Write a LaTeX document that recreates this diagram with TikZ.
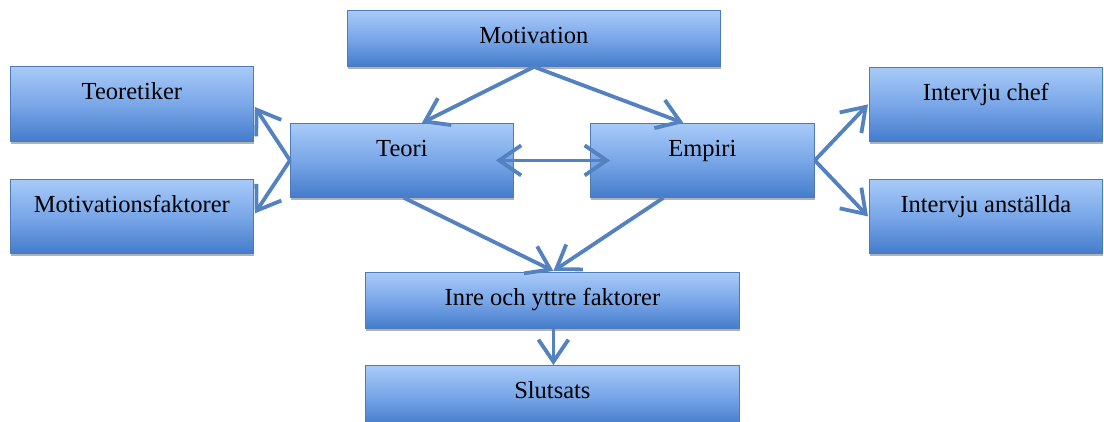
\documentclass[tikz,border=0pt]{standalone}
\usepackage{fontspec}
\setmainfont{Liberation Serif}
\usetikzlibrary{arrows.meta,shadows,calc}
\definecolor{boxtop}{RGB}{168,202,248}
\definecolor{boxmid}{RGB}{122,167,232}
\definecolor{boxbot}{RGB}{68,124,203}
\definecolor{boxline}{RGB}{78,122,186}
\definecolor{arrowc}{RGB}{84,130,192}
\begin{document}
\begin{tikzpicture}[x=1pt,y=-1pt,
  box/.style={draw=boxline, line width=0.8pt, top color=boxtop, bottom color=boxbot, middle color=boxmid,
    anchor=north west, inner xsep=0pt, inner ysep=0pt, text height=33pt,
    font=\fontsize{24.5}{28}\selectfont,
    drop shadow={shadow xshift=0.5pt, shadow yshift=-3pt, opacity=0.3, fill=black}},
  conn/.style={draw=arrowc, line width=3.8pt},
  >={Straight Barb[length=22pt,width=30pt]}
]
\useasboundingbox (0,0) rectangle (1104,421);
\clip (0,0) rectangle (1104,421);
\fill[white] (0,0) rectangle (1104,421);

\node[box, minimum width=373pt, text depth=23pt] (mot) at (347,10) {Motivation};
\node[box, minimum width=243pt, text depth=42pt] (teor) at (10,66) {Teoretiker};
\node[box, minimum width=243pt, text depth=41pt] (mf) at (10,179) {Motivationsfaktorer};
\node[box, minimum width=223pt, text depth=41pt] (teori) at (290,123) {Teori};
\node[box, minimum width=224pt, text depth=41pt] (emp) at (590,123) {Empiri};
\node[box, minimum width=233pt, text depth=41pt] (ic) at (869,67) {Intervju chef};
\node[box, minimum width=233pt, text depth=41pt] (ia) at (869,179) {Intervju anställda};
\node[box, minimum width=374pt, text depth=23pt] (inre) at (365,272) {Inre och yttre faktorer};
\node[box, minimum width=374pt, text depth=27pt] (slut) at (365,365) {Slutsats};

\draw[conn,->] (mot.south) -- ([xshift=20pt]teori.north);
\draw[conn,->] (mot.south) -- ([xshift=-19pt]emp.north);
\draw[conn,<->] ([xshift=-18pt]teori.east) -- ([xshift=20pt]emp.west);
\draw[conn,->] (teori.west) -- ([xshift=1pt,yshift=-3pt]teor.east);
\draw[conn,->] (teori.west) -- ([xshift=1pt,yshift=3pt]mf.east);
\draw[conn,->] (emp.east) -- ([xshift=-1pt]ic.west);
\draw[conn,->] (emp.east) -- ([xshift=-1pt]ia.west);
\draw[conn,->] ([xshift=2pt]teori.south) -- ([xshift=1pt,yshift=1pt]inre.north);
\draw[conn,->] ([xshift=-39pt]emp.south) -- ([xshift=1pt,yshift=1pt]inre.north);
\draw[conn,->] ([xshift=1pt]inre.south) -- ([xshift=1pt]slut.north);
\end{tikzpicture}
\end{document}
